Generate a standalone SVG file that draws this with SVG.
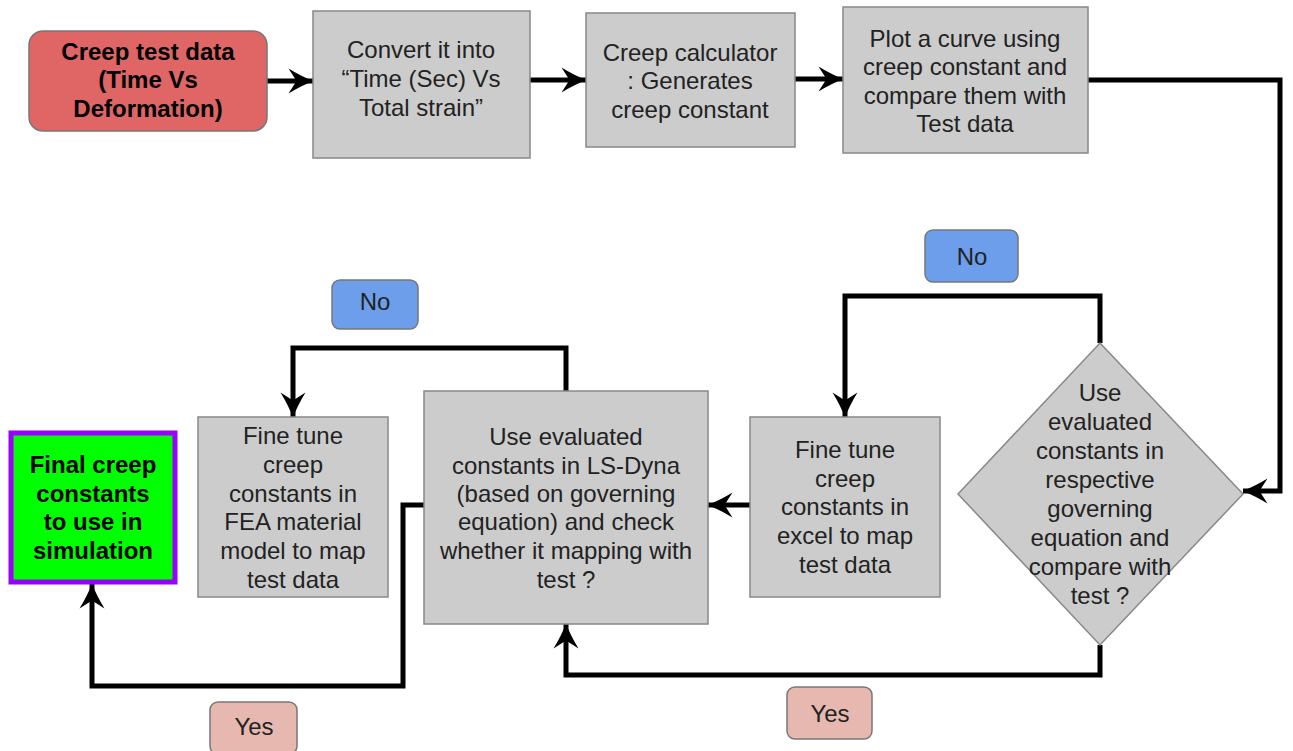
<svg xmlns="http://www.w3.org/2000/svg" width="1293" height="751" viewBox="0 0 1293 751">
<defs>
<marker id="ah" viewBox="0 0 26 26" refX="25.5" refY="13" markerWidth="26" markerHeight="26" markerUnits="userSpaceOnUse" orient="auto">
<path d="M26,13 Q14,8.5 1,0.5 L9,13 L1,25.5 Q14,17.5 26,13 Z" fill="#000"/>
</marker>
</defs>
<style>
.box{fill:#cccccc;stroke:#888888;stroke-width:1.5}
.t{font-family:"Liberation Sans",Arial,sans-serif;font-size:24px;fill:#222;text-anchor:middle}
.b{font-weight:bold;fill:#000}
.c{fill:none;stroke:#000;stroke-width:5;stroke-linejoin:miter}
.ar{marker-end:url(#ah)}
.no{fill:#6d9eeb;stroke:#777;stroke-width:1.5}
.yes{fill:#e6b8af;stroke:#777;stroke-width:1.5}
</style>
<rect width="1293" height="751" fill="#fff"/>
<g id="connectors">
<line class="c ar" x1="267" y1="81" x2="313" y2="81"/>
<line class="c ar" x1="530" y1="80" x2="586" y2="80"/>
<line class="c ar" x1="795" y1="79" x2="843" y2="79"/>
<polyline class="c ar" points="1088,80 1280,80 1280,491 1243,491"/>
<polyline class="c ar" points="1100,343 1100,296 845,296 845,417"/>
<line class="c ar" x1="750" y1="505" x2="708" y2="505"/>
<polyline class="c ar" points="1100,645 1100,675 566,675 566,624"/>
<polyline class="c ar" points="566,391 566,348 293,348 293,417"/>
<polyline class="c ar" points="424,505 403,505 403,686 92,686 92,584"/>
</g>
<g id="n1">
<rect x="29" y="31" width="238" height="100" rx="14" fill="#e06666" stroke="#777" stroke-width="1.5"/>
<text class="t b" x="148" y="60">Creep test data</text>
<text class="t b" x="148" y="88">(Time Vs</text>
<text class="t b" x="148" y="117">Deformation)</text>
</g>
<g id="n2">
<rect class="box" x="313" y="11" width="217" height="147"/>
<text class="t" x="421" y="58">Convert it into</text>
<text class="t" x="421" y="87">“Time (Sec) Vs</text>
<text class="t" x="421" y="116">Total strain”</text>
</g>
<g id="n3">
<rect class="box" x="586" y="13" width="209" height="134"/>
<text class="t" x="690" y="61">Creep calculator</text>
<text class="t" x="690" y="89">: Generates</text>
<text class="t" x="690" y="118">creep constant</text>
</g>
<g id="n4">
<rect class="box" x="843" y="7" width="245" height="146"/>
<text class="t" x="965" y="47">Plot a curve using</text>
<text class="t" x="965" y="75">creep constant and</text>
<text class="t" x="965" y="104">compare them with</text>
<text class="t" x="965" y="132">Test data</text>
</g>
<g id="n5">
<polygon class="box" points="1100,343 1243,494 1100,645 958,494"/>
<text class="t" x="1100" y="401">Use</text>
<text class="t" x="1100" y="430">evaluated</text>
<text class="t" x="1100" y="459">constants in</text>
<text class="t" x="1100" y="488">respective</text>
<text class="t" x="1100" y="517">governing</text>
<text class="t" x="1100" y="546">equation and</text>
<text class="t" x="1100" y="575">compare with</text>
<text class="t" x="1100" y="604">test ?</text>
</g>
<g id="n6">
<rect class="box" x="750" y="417" width="190" height="180"/>
<text class="t" x="845" y="458">Fine tune</text>
<text class="t" x="845" y="487">creep</text>
<text class="t" x="845" y="515">constants in</text>
<text class="t" x="845" y="544">excel to map</text>
<text class="t" x="845" y="573">test data</text>
</g>
<g id="n7">
<rect class="box" x="424" y="391" width="284" height="233"/>
<text class="t" x="566" y="445">Use evaluated</text>
<text class="t" x="566" y="474">constants in LS-Dyna</text>
<text class="t" x="566" y="502">(based on governing</text>
<text class="t" x="566" y="530">equation) and check</text>
<text class="t" x="566" y="559">whether it mapping with</text>
<text class="t" x="566" y="588">test ?</text>
</g>
<g id="n8">
<rect class="box" x="198" y="417" width="190" height="180"/>
<text class="t" x="293" y="444">Fine tune</text>
<text class="t" x="293" y="473">creep</text>
<text class="t" x="293" y="502">constants in</text>
<text class="t" x="293" y="530">FEA material</text>
<text class="t" x="293" y="559">model to map</text>
<text class="t" x="293" y="588">test data</text>
</g>
<g id="n9">
<rect x="11" y="433" width="164" height="149" fill="#00ff00" stroke="#9900ff" stroke-width="5"/>
<text class="t b" x="93" y="473">Final creep</text>
<text class="t b" x="93" y="502">constants</text>
<text class="t b" x="93" y="530">to use in</text>
<text class="t b" x="93" y="559">simulation</text>
</g>
<g id="l1">
<rect class="no" x="925" y="230" width="93" height="52" rx="8"/>
<text class="t" x="972" y="265">No</text>
</g>
<g id="l2">
<rect class="no" x="332" y="280" width="86" height="49" rx="8"/>
<text class="t" x="375" y="310">No</text>
</g>
<g id="l3">
<rect class="yes" x="787" y="687" width="85" height="52" rx="8"/>
<text class="t" x="830" y="722">Yes</text>
</g>
<g id="l4">
<rect class="yes" x="210" y="702" width="87" height="52" rx="8"/>
<text class="t" x="254" y="735">Yes</text>
</g>
</svg>
